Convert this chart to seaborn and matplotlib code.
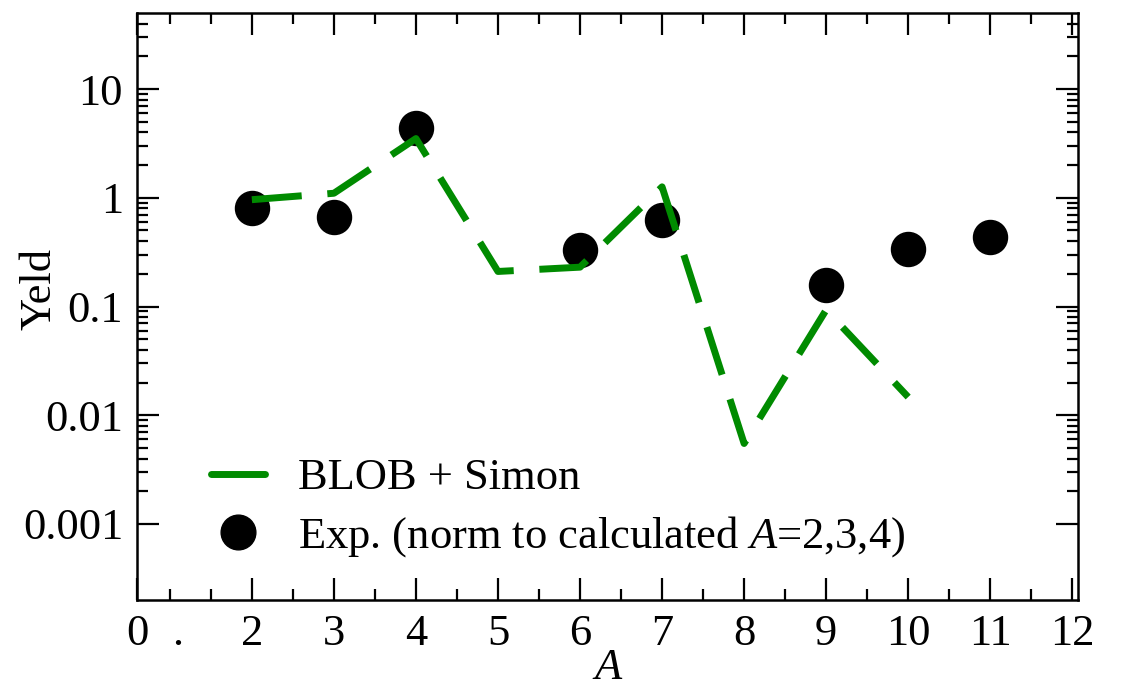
import numpy as np
import pandas as pd
import seaborn as sns
import matplotlib.pyplot as plt
from matplotlib.lines import Line2D
from matplotlib.ticker import FixedLocator, NullFormatter

# data
calc_A = [2, 3, 4, 5, 6, 7, 8, 9, 10]
calc_yield = [0.96, 1.1, 3.5, 0.21, 0.23, 1.26, 0.0055, 0.093, 0.0147]

exp_A = [2, 3, 4, 6, 7, 9, 10, 11]
exp_yield = [0.81, 0.67, 4.4, 0.33, 0.63, 0.158, 0.34, 0.44]

xtick_pos = [0.6, 2, 3, 4, 5, 6, 7, 8, 9, 10, 11, 12]
xtick_labels = ["0", "2", "3", "4", "5", "6", "7", "8", "9", "10", "11", "12"]
ytick_pos = [0.001, 0.01, 0.1, 1, 10]
ytick_labels = ["0.001", "0.01", "0.1", "1", "10"]

sns.set_style("ticks")
plt.rcParams["font.family"] = ["Liberation Serif", "DejaVu Serif"]
plt.rcParams["mathtext.fontset"] = "custom"
plt.rcParams["mathtext.rm"] = "Liberation Serif"
plt.rcParams["mathtext.it"] = "Liberation Serif:italic"
plt.rcParams["text.color"] = "black"
plt.rcParams["axes.labelcolor"] = "black"
plt.rcParams["axes.edgecolor"] = "black"
plt.rcParams["xtick.color"] = "black"
plt.rcParams["ytick.color"] = "black"

green = "#008b00"
fs = 32

calc_df = pd.DataFrame({"A": calc_A, "Yield": calc_yield})
exp_df = pd.DataFrame({"A": exp_A, "Yield": exp_yield})

fig = plt.figure(figsize=(11.24, 6.87), dpi=100)
ax = fig.add_axes([137 / 1124, 1 - 600 / 687, (1078 - 137) / 1124, (600 - 13) / 687])

sns.scatterplot(data=exp_df, x="A", y="Yield", ax=ax, color="black", marker="o",
                s=600, edgecolor="black", linewidth=1, zorder=2, legend=False)
sns.lineplot(data=calc_df, x="A", y="Yield", ax=ax, color=green, linewidth=5,
             zorder=3, legend=False)
ax.lines[-1].set_dashes((7.2, 3.7))
ax.lines[-1].set_dash_capstyle("butt")

ax.set_yscale("log")
ax.set_xlim(0.6, 12.07)
ax.set_ylim(2e-4, 50)

ax.set_xticks(xtick_pos)
ax.set_xticklabels(xtick_labels)
ax.xaxis.set_minor_locator(FixedLocator([1, 1.5] + [k + 0.5 for k in range(2, 12)]))
ax.set_yticks(ytick_pos)
ax.set_yticklabels(ytick_labels)
yminor = [m * 10.0 ** e for e in range(-3, 1) for m in range(2, 10)] + [20, 30, 40]
ax.yaxis.set_minor_locator(FixedLocator(yminor))
ax.yaxis.set_minor_formatter(NullFormatter())

ax.tick_params(which="both", direction="in", top=True, right=True, width=1.6,
               labelsize=fs, pad=10)
ax.tick_params(which="major", length=16)
ax.tick_params(which="minor", length=8)
for sp in ax.spines.values():
    sp.set_linewidth(1.8)

# the odd dot under the x=1 tick
ax.text(1.1, -0.0237, ".", transform=ax.get_xaxis_transform(), ha="center",
        va="top", fontsize=fs)

ax.set_xlabel("$A$", fontsize=fs, labelpad=-4)
ax.set_ylabel("Yeld", fontsize=fs)
ax.yaxis.set_label_coords(-0.082, 0.53)

handles = [
    Line2D([], [], color=green, linewidth=5),
    Line2D([], [], color="black", marker="o", linestyle="none", markersize=25),
]
labels = ["BLOB + Simon", "Exp. (norm to calculated $A$=2,3,4)"]
ax.legend(handles, labels, loc="lower left", bbox_to_anchor=(0.06, 0.04),
          frameon=False, fontsize=fs, handlelength=1.2, handletextpad=0.75,
          labelspacing=0.35, borderaxespad=0)

fig.savefig("out.png", dpi=100)
